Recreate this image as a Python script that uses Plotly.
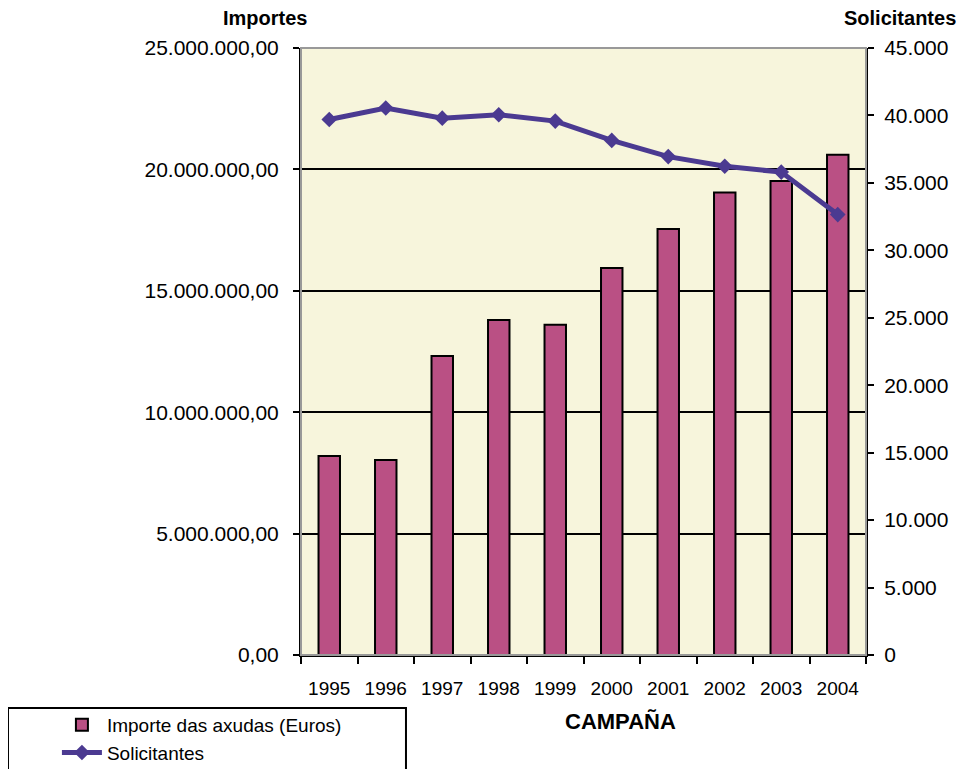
import plotly.graph_objects as go

# data
campanas = ["1995", "1996", "1997", "1998", "1999", "2000", "2001", "2002", "2003", "2004"]
importes = [8200000, 8030000, 12310000, 13800000, 13600000, 15940000, 17550000, 19050000, 19520000, 20600000]
solicitantes = [39700, 40550, 39800, 40050, 39580, 38150, 36950, 36230, 35800, 32650]

left_ticks = [0, 5000000, 10000000, 15000000, 20000000, 25000000]
right_ticks = [0, 5000, 10000, 15000, 20000, 25000, 30000, 35000, 40000, 45000]

bar_color = "#BA5084"
line_color = "#4B3A91"
bg_color = "#F7F5DC"
font_family = "Liberation Sans, Arial, sans-serif"

fig = go.Figure()

fig.add_trace(go.Bar(
    x=campanas, y=importes, name="Importe das axudas (Euros)",
    marker=dict(color=bar_color, line=dict(color="black", width=2)),
    width=0.38, yaxis="y",
))

fig.add_trace(go.Scatter(
    x=campanas, y=solicitantes, name="Solicitantes", mode="lines+markers",
    line=dict(color=line_color, width=5),
    marker=dict(symbol="diamond", size=12, color=line_color),
    yaxis="y2",
))

# the page body adds an 8px offset, so margins are shifted by 8px
fig.update_layout(
    width=967, height=769,
    margin=dict(l=293, r=109, t=40, b=122, autoexpand=False),
    paper_bgcolor="white", plot_bgcolor=bg_color,
    separators=",.",
    font=dict(family=font_family, size=21, color="black"),
    showlegend=True,
    legend=dict(x=-0.432, y=-0.084, xanchor="left", yanchor="top",
                bgcolor="rgba(0,0,0,0)", borderwidth=0,
                font=dict(size=19), tracegroupgap=0, itemwidth=40),
    xaxis=dict(
        type="category", range=[-0.5, 9.5],
        showline=True, linecolor="black", linewidth=2,
        ticks="outside", ticklen=7, tickwidth=2, tickcolor="black",
        tickson="boundaries", showgrid=False, ticklabelstandoff=15,
        tickangle=0, tickfont=dict(size=19), automargin=False,
    ),
    yaxis=dict(
        range=[0, 25000000], tickvals=left_ticks, tickformat=",.2f",
        showline=True, linecolor="black", linewidth=2,
        ticks="outside", ticklen=6, tickwidth=2, tickcolor="black",
        showgrid=True, gridcolor="black", gridwidth=2, zeroline=False,
        ticklabelstandoff=10, automargin=False,
    ),
    yaxis2=dict(
        range=[0, 45000], tickvals=right_ticks, tickformat=",d",
        overlaying="y", side="right",
        showline=True, linecolor="black", linewidth=2,
        ticks="outside", ticklen=6, tickwidth=2, tickcolor="black",
        showgrid=False, zeroline=False, ticklabelstandoff=6,
        automargin=False,
    ),
    bargap=0.62,
)

# grey frame of the plot area
fig.add_shape(type="rect", xref="paper", yref="paper", x0=0, x1=1, y0=0, y1=1,
              line=dict(color="#999999", width=2), layer="above")
# legend box
fig.add_shape(type="rect", xref="paper", yref="paper",
              x0=-0.5186, x1=0.1858, y0=-0.0873, y1=-0.25,
              line=dict(color="black", width=2))

fig.add_annotation(text="<b>Importes</b>", xref="paper", yref="paper",
                   x=-0.064, y=1.049, xanchor="center", yanchor="middle",
                   showarrow=False, font=dict(size=20))
fig.add_annotation(text="<b>Solicitantes</b>", xref="paper", yref="paper",
                   x=1.06, y=1.049, xanchor="center", yanchor="middle",
                   showarrow=False, font=dict(size=20))
fig.add_annotation(text="<b>CAMPAÑA</b>", xref="paper", yref="paper",
                   x=0.565, y=-0.11, xanchor="center", yanchor="middle",
                   showarrow=False, font=dict(size=22))

fig.write_html("out.html")
